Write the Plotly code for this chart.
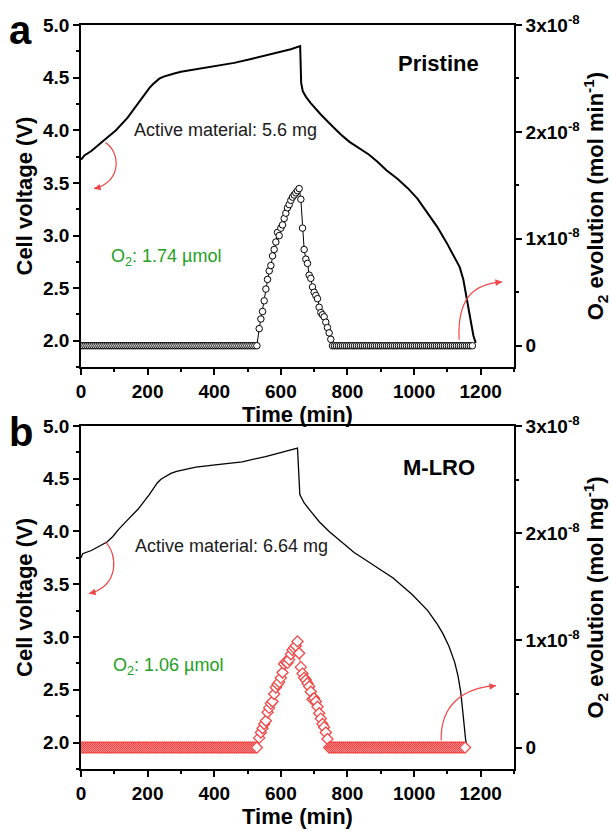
import numpy as np
import plotly.graph_objects as go

# ---------------- data ----------------
# Panel a (Pristine): cell voltage vs time
t_volt_a = [0, 10, 30, 57, 80, 105, 140, 172, 190, 205, 215, 225, 235, 248, 262, 280, 300, 350,
            400, 460, 514, 580, 630, 658, 661, 666, 675, 689, 705, 720, 748, 780, 806, 835, 864,
            890, 917, 950, 981, 1010, 1040, 1070, 1098, 1120, 1137, 1148, 1157, 1163, 1170,
            1178, 1185]
volt_a = [3.72, 3.76, 3.80, 3.875, 3.93, 4.00, 4.12, 4.26, 4.34, 4.40, 4.435, 4.465, 4.49, 4.51,
          4.525, 4.54, 4.555, 4.58, 4.605, 4.64, 4.68, 4.73, 4.77, 4.80, 4.45, 4.37, 4.32, 4.26,
          4.20, 4.15, 4.06, 3.96, 3.89, 3.83, 3.77, 3.70, 3.62, 3.54, 3.45, 3.35, 3.22, 3.08,
          2.93, 2.80, 2.70, 2.58, 2.42, 2.30, 2.18, 2.05, 1.98]

# Panel a: O2 evolution (mol/min), peak region
t_o2_peak_a = [535, 540, 545, 550, 555, 560, 565, 570, 575, 580, 585, 590, 595, 600, 605, 610,
               615, 620, 625, 630, 635, 640, 645, 650, 655, 660, 665, 670, 675, 680, 685, 690,
               695, 700, 705, 710, 715, 720, 725, 730, 735, 740, 745, 750]
o2_peak_a = [0.16, 0.25, 0.32, 0.42, 0.53, 0.62, 0.70, 0.75, 0.84, 0.90, 0.97, 1.06, 1.03, 1.10,
             1.13, 1.19, 1.24, 1.29, 1.32, 1.36, 1.39, 1.41, 1.43, 1.45, 1.47, 1.37, 1.10, 0.90,
             0.81, 0.77, 0.66, 0.63, 0.55, 0.50, 0.47, 0.44, 0.36, 0.31, 0.29, 0.27, 0.22, 0.17,
             0.12, 0.06]  # x 1e-8
t_o2_base_a1 = list(np.arange(0, 531, 6))
t_o2_base_a2 = list(np.arange(755, 1178, 6))

# Panel b (M-LRO): cell voltage vs time
t_volt_b = [0, 5, 31, 55, 78, 95, 113, 140, 171, 205, 218, 229, 240, 252, 270, 287, 315, 345,
            403, 484, 554, 612, 650, 657, 670, 690, 716, 745, 774, 800, 820, 850, 878, 937, 995,
            1041, 1070, 1087, 1105, 1122, 1132, 1140, 1146, 1151, 1155, 1157]
volt_b = [3.75, 3.79, 3.82, 3.86, 3.90, 3.95, 4.02, 4.11, 4.21, 4.35, 4.41, 4.46, 4.495, 4.52,
          4.55, 4.57, 4.59, 4.61, 4.63, 4.66, 4.71, 4.76, 4.79, 4.35, 4.27, 4.19, 4.09, 4.00,
          3.92, 3.85, 3.80, 3.74, 3.68, 3.56, 3.40, 3.25, 3.12, 3.03, 2.91, 2.76, 2.63, 2.48,
          2.30, 2.12, 2.02, 1.99]

# Panel b: O2 evolution (mol/mg), peak region
t_o2_peak_b = [535, 540, 545, 550, 555, 560, 565, 570, 575, 580, 585, 590, 595, 600, 605, 610,
               615, 620, 625, 630, 635, 640, 645, 650, 655, 660, 665, 670, 675, 680, 685, 690,
               695, 700, 705, 710, 715, 720, 725, 730, 735, 740]
o2_peak_b = [0.09, 0.14, 0.18, 0.22, 0.25, 0.33, 0.37, 0.41, 0.43, 0.50, 0.56, 0.59, 0.61, 0.65,
             0.70, 0.78, 0.80, 0.79, 0.82, 0.87, 0.91, 0.93, 0.95, 0.99, 0.88, 0.75, 0.69, 0.65,
             0.63, 0.60, 0.57, 0.52, 0.45, 0.46, 0.43, 0.38, 0.32, 0.27, 0.22, 0.19, 0.14, 0.08]
t_o2_base_b1 = list(np.arange(0, 533, 6))
t_o2_base_b2 = list(np.arange(745, 1158, 6))

x_ticks = [0, 200, 400, 600, 800, 1000, 1200]
v_ticks = [2.0, 2.5, 3.0, 3.5, 4.0, 4.5, 5.0]
o2_tickvals = [0, 1e-8, 2e-8, 3e-8]
o2_ticktext = ["0", "1x10<sup>-8</sup>", "2x10<sup>-8</sup>", "3x10<sup>-8</sup>"]

# assemble O2 series
t_o2_a = t_o2_base_a1 + t_o2_peak_a + t_o2_base_a2
o2_a = [0.0] * len(t_o2_base_a1) + [v * 1e-8 for v in o2_peak_a] + [0.0] * len(t_o2_base_a2)
t_o2_b = t_o2_base_b1 + t_o2_peak_b + t_o2_base_b2
o2_b = [0.0] * len(t_o2_base_b1) + [v * 1e-8 for v in o2_peak_b] + [0.0] * len(t_o2_base_b2)

# ---------------- layout geometry ----------------
W, H = 611, 831
L, R, T, B = 81, 96, 21, 51
PW, PH = W - L - R, H - T - B


def fx(px):
    return (px - L) / PW


def fy(py):
    return 1 - (py - T) / PH


FONT = "Liberation Sans, Arial, sans-serif"
RED = "#f04848"
GREEN = "#22a022"

fig = go.Figure()

fig.add_trace(go.Scatter(x=t_o2_a, y=o2_a, mode="lines+markers", xaxis="x", yaxis="y2",
                         line=dict(color="black", width=1),
                         marker=dict(symbol="circle", size=6.5, color="white",
                                     line=dict(color="black", width=1)),
                         showlegend=False))
fig.add_trace(go.Scatter(x=t_volt_a, y=volt_a, mode="lines", xaxis="x", yaxis="y",
                         line=dict(color="black", width=2), showlegend=False))

fig.add_trace(go.Scatter(x=t_o2_b, y=o2_b, mode="lines+markers", xaxis="x2", yaxis="y4",
                         line=dict(color=RED, width=1),
                         marker=dict(symbol="diamond", size=8.5, color="white",
                                     line=dict(color=RED, width=1.3)),
                         showlegend=False))
fig.add_trace(go.Scatter(x=t_volt_b, y=volt_b, mode="lines", xaxis="x2", yaxis="y3",
                         line=dict(color="black", width=1.3), showlegend=False))

tickfont = dict(family=FONT, size=19, color="black", weight="bold")
titlefont = dict(family=FONT, size=22, color="black", weight="bold")
common = dict(showline=True, linecolor="black", linewidth=1.6, ticks="outside", ticklen=6,
              tickwidth=1.6, tickcolor="black", showgrid=False, zeroline=False,
              tickfont=tickfont)
minor_x = dict(ticks="outside", ticklen=3.5, tickwidth=1.6, tickcolor="black", dtick=100, tick0=0)
minor_v = dict(ticks="outside", ticklen=3.5, tickwidth=1.6, tickcolor="black", dtick=0.25, tick0=0)
minor_o = dict(ticks="outside", ticklen=3.5, tickwidth=1.6, tickcolor="black",
               tickmode="array", tickvals=[0.5e-8, 1.5e-8, 2.5e-8])

top_dom = [fy(370), 1]
bot_dom = [0, fy(430)]

fig.update_layout(
    width=W, height=H, margin=dict(l=L, r=R, t=T, b=B), plot_bgcolor="white",
    paper_bgcolor="white", showlegend=False,
    xaxis=dict(domain=[0, 1], anchor="y", range=[0, 1300], tickmode="array", tickvals=x_ticks,
               mirror=True, minor=minor_x,
               title=dict(text="Time (min)", font=titlefont, standoff=0), **common),
    yaxis=dict(domain=top_dom, anchor="x", range=[1.75, 5.0], tickmode="array", tickvals=v_ticks,
               tickformat=".1f", minor=minor_v,
               title=dict(text="Cell voltage (V)", font=titlefont, standoff=4), **common),
    yaxis2=dict(overlaying="y", side="right", anchor="x", range=[-0.2e-8, 3e-8],
                tickmode="array", tickvals=o2_tickvals, ticktext=o2_ticktext, minor=minor_o,
                title=dict(text="O<sub>2</sub> evolution (mol min<sup>-1</sup>)", font=titlefont,
                           standoff=4), **common),
    xaxis2=dict(domain=[0, 1], anchor="y3", range=[0, 1300], tickmode="array", tickvals=x_ticks,
                mirror=True, minor=minor_x,
                title=dict(text="Time (min)", font=titlefont, standoff=0), **common),
    yaxis3=dict(domain=bot_dom, anchor="x2", range=[1.75, 5.0], tickmode="array",
                tickvals=v_ticks, tickformat=".1f", minor=minor_v,
                title=dict(text="Cell voltage (V)", font=titlefont, standoff=4), **common),
    yaxis4=dict(overlaying="y3", side="right", anchor="x2", range=[-0.2e-8, 3e-8],
                tickmode="array", tickvals=o2_tickvals, ticktext=o2_ticktext, minor=minor_o,
                title=dict(text="O<sub>2</sub> evolution (mol mg<sup>-1</sup>)", font=titlefont,
                           standoff=4), **common),
)

# ---------------- annotations ----------------
def txt(text, px, py, size, color="black", bold=False, xanchor="left"):
    fig.add_annotation(text=text, x=fx(px), y=fy(py), xref="paper", yref="paper",
                       xanchor=xanchor, yanchor="middle", showarrow=False,
                       font=dict(family=FONT, size=size, color=color,
                                 weight="bold" if bold else "normal"))


txt("a", 7, 26, 40, bold=True)
txt("b", 7, 436, 40, bold=True)
txt("Pristine", 397, 60, 22, bold=True)
txt("M-LRO", 402, 472, 22, bold=True)
txt("Active material: 5.6 mg", 132, 128, 18, color="#1a1a1a")
txt("Active material: 6.64 mg", 133, 552, 18, color="#1a1a1a")
txt("O<sub>2</sub>: 1.74 µmol", 109, 258, 18, color=GREEN)
txt("O<sub>2</sub>: 1.06 µmol", 111, 675, 18, color=GREEN)

# curved red arrows (pixel geometry -> paper)
arrows = [
    # start, c1, c2, end, tail offset for head
    ((105.5, 141), (120, 150), (123, 181), (94, 188), (8, -2)),
    ((105, 548), (118, 560), (120, 593), (89, 601), (8, -2)),
    ((460, 342), (458, 300), (474, 285), (503, 283), (-8, 1)),
    ((442, 751), (441, 714), (465, 697), (497, 695), (-8, 1)),
]
for s, c1, c2, e, off in arrows:
    path = "M {},{} C {},{} {},{} {},{}".format(fx(s[0]), fy(s[1]), fx(c1[0]), fy(c1[1]),
                                                fx(c2[0]), fy(c2[1]), fx(e[0]), fy(e[1]))
    fig.add_shape(type="path", path=path, xref="paper", yref="paper",
                  line=dict(color=RED, width=1.2))
    fig.add_annotation(x=fx(e[0]), y=fy(e[1]), xref="paper", yref="paper", text="",
                       showarrow=True, ax=off[0], ay=off[1], arrowhead=2, arrowsize=1.1,
                       arrowwidth=1.2, arrowcolor=RED, standoff=0)

fig.write_html("out.html")
